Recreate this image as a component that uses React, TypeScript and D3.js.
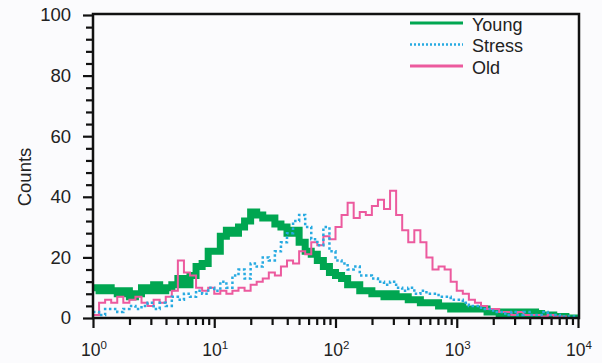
import React, { useEffect, useRef } from 'react';
import * as d3 from 'd3';

// 20 bins per decade, from 10^0 to 10^4 (80 bins)
const BINS_PER_DECADE = 20;

const young = [
  10, 9, 10, 9, 8, 9, 7, 8, 10, 9,
  11, 9, 10, 11, 13, 11, 14, 17, 18, 22,
  22, 27, 29, 28, 30, 32, 35, 34, 33, 33,
  31, 30, 28, 29, 25, 22, 21, 19, 17, 15,
  14, 13, 11, 11, 9, 9, 8, 8, 7, 8,
  7, 7, 6, 6, 5, 5, 5, 4, 4, 3,
  4, 3, 3, 3, 3, 2, 2, 1.5, 2, 1.5,
  2, 1.5, 2, 1.5, 1, 1, 0.5, 0.5, 0, 0,
];

const stress = [
  2, 1, 3, 3, 2, 3, 4, 3, 4, 5,
  3, 5, 4, 7, 6, 8, 7, 9, 8, 10,
  9, 12, 10, 14, 16, 13, 18, 17, 20, 19,
  22, 25, 28, 32, 34, 30, 26, 24, 30, 22,
  19, 18, 16, 17, 14, 14, 13, 12, 11, 12,
  10, 9, 10, 8, 9, 8, 8, 7, 7, 6,
  6, 5, 4, 4, 3, 3, 2, 2, 1, 2,
  1, 2, 1, 1, 2, 1, 1, 0.5, 0.5, 0.5,
];

const old = [
  1, 5, 6, 5, 7, 5, 6, 7, 5, 4,
  6, 5, 7, 9, 19, 15, 14, 10, 9, 10,
  8, 9, 8, 9, 10, 9, 11, 12, 13, 15,
  14, 17, 19, 18, 22, 21, 25, 24, 27, 26,
  30, 34, 38, 33, 35, 34, 37, 39, 36, 42,
  34, 29, 25, 29, 25, 20, 16, 17, 16, 12,
  9, 8, 6, 5, 4, 3, 3, 2, 2, 1,
  2, 1, 1, 1, 0.5, 1, 0.5, 0.5, 0, 0,
];

const yTickValues = [0, 20, 40, 60, 80, 100];
const xDecades = [0, 1, 2, 3, 4];
const legendNames = ['Young', 'Stress', 'Old'];

const colors = { Young: '#00a651', Stress: '#27aae1', Old: '#ec5a9e' };
const FONT = '"Liberation Sans", Arial, sans-serif';

export default function App() {
  const ref = useRef<SVGSVGElement>(null);

  useEffect(() => {
    const svg = d3.select(ref.current);
    svg.selectAll('*').remove();

    const left = 93, right = 578, top = 15, bottom = 318;

    const x = d3.scaleLog().domain([1, 10000]).range([left, right]);
    const y = d3.scaleLinear().domain([0, 100]).range([bottom, top]);

    svg.append('defs').append('clipPath').attr('id', 'plot-clip')
      .append('rect')
      .attr('x', left).attr('y', top - 1)
      .attr('width', right - left).attr('height', bottom - top);

    // histogramas em degraus
    const toPoints = (vals: number[]) => {
      const pts = vals.map((v, i) => [10 ** (i / BINS_PER_DECADE), v] as [number, number]);
      pts.push([10 ** (vals.length / BINS_PER_DECADE), vals[vals.length - 1]]);
      return pts;
    };
    const line = d3.line<[number, number]>()
      .x(d => x(d[0]))
      .y(d => y(d[1]))
      .curve(d3.curveStepAfter);

    const plot = svg.append('g').attr('clip-path', 'url(#plot-clip)');

    plot.append('path')
      .attr('d', line(toPoints(young)))
      .attr('fill', 'none')
      .attr('stroke', colors.Young)
      .attr('stroke-width', 7);

    plot.append('path')
      .attr('d', line(toPoints(old)))
      .attr('fill', 'none')
      .attr('stroke', colors.Old)
      .attr('stroke-width', 2);

    plot.append('path')
      .attr('d', line(toPoints(stress)))
      .attr('fill', 'none')
      .attr('stroke', colors.Stress)
      .attr('stroke-width', 2.5)
      .attr('stroke-dasharray', '2.5 2.5');

    // moldura
    svg.append('rect')
      .attr('x', left).attr('y', top - 1)
      .attr('width', right - left + 1).attr('height', bottom - top + 1)
      .attr('fill', 'none')
      .attr('stroke', '#111')
      .attr('stroke-width', 2.5);

    // eixo y
    const minorY = d3.range(0, 101, 4).filter(v => v % 20 !== 0);
    const yAxis = svg.append('g').attr('transform', `translate(${left},0)`);
    yAxis.call(d3.axisLeft(y).tickValues(minorY).tickSize(7).tickFormat(() => ''));
    yAxis.select('.domain').remove();
    const yMajor = svg.append('g').attr('transform', `translate(${left},0)`);
    yMajor.call(d3.axisLeft(y).tickValues(yTickValues).tickSize(10).tickPadding(12));
    yMajor.select('.domain').remove();
    yMajor.selectAll('text')
      .attr('font-family', FONT)
      .attr('font-size', 18.5)
      .attr('fill', '#222');

    // eixo x
    const minorX: number[] = [];
    xDecades.slice(0, -1).forEach(d => {
      for (let k = 2; k <= 9; k++) minorX.push(k * 10 ** d);
    });
    const xMinor = svg.append('g').attr('transform', `translate(0,${bottom})`);
    xMinor.call(d3.axisBottom(x).tickValues(minorX).tickSize(7).tickFormat(() => ''));
    xMinor.select('.domain').remove();
    const xMajor = svg.append('g').attr('transform', `translate(0,${bottom})`);
    xMajor.call(d3.axisBottom(x).tickValues(xDecades.map(d => 10 ** d)).tickSize(10).tickFormat(() => ''));
    xMajor.select('.domain').remove();
    svg.selectAll('.tick line').attr('stroke', '#111').attr('stroke-width', 2.2);

    // rótulos 10^n
    const xl = svg.append('g');
    xDecades.forEach(d => {
      const t = xl.append('text')
        .attr('x', x(10 ** d) + 1)
        .attr('y', 356)
        .attr('text-anchor', 'middle')
        .attr('font-family', FONT)
        .attr('font-size', 17.5)
        .attr('fill', '#222');
      t.append('tspan').text('10');
      t.append('tspan').attr('dy', -7).attr('font-size', 11.5).text(String(d));
    });

    // rótulo y
    svg.append('text')
      .attr('transform', 'translate(31,177) rotate(-90)')
      .attr('text-anchor', 'middle')
      .attr('font-family', FONT)
      .attr('font-size', 18.5)
      .attr('fill', '#222')
      .text('Counts');

    // legenda
    const legend = svg.append('g').attr('transform', 'translate(410,23)');
    legendNames.forEach((name, i) => {
      const row = legend.append('g').attr('transform', `translate(0,${i * 21.5})`);
      row.append('line')
        .attr('x1', 0).attr('x2', 53)
        .attr('stroke', colors[name as keyof typeof colors])
        .attr('stroke-width', name === 'Stress' ? 2.5 : 3)
        .attr('stroke-dasharray', name === 'Stress' ? '2 2' : null);
      row.append('text')
        .attr('x', 62)
        .attr('y', 7.5)
        .attr('font-family', FONT)
        .attr('font-size', 18)
        .attr('fill', '#222')
        .text(name);
    });
  }, []);

  return (
    <svg
      ref={ref}
      width={602}
      height={363}
      style={{ position: 'absolute', left: 0, top: 0, background: '#fbfbfd' }}
    />
  );
}
